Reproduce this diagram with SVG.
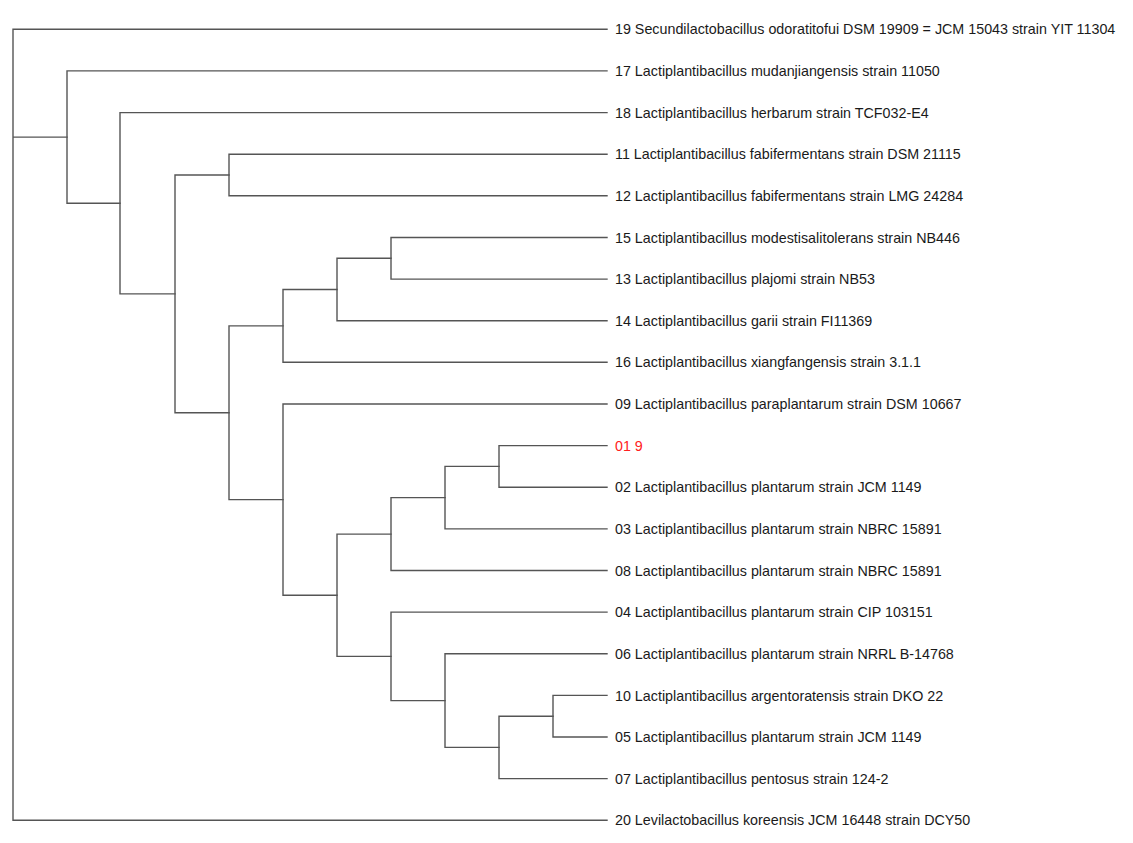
<svg xmlns="http://www.w3.org/2000/svg" width="1133" height="843" viewBox="0 0 1133 843">
<style>
.e{fill:none;stroke:#555;stroke-width:1.4;stroke-linecap:square}
.t{font-family:"Liberation Sans",Arial,sans-serif;font-size:14.3px;fill:#1a1a1a}
.r{fill:#ff2020}
</style>
<rect width="1133" height="843" fill="#fff"/>
<g id="connectors">
<path class="e" d="M13 29.3V820.3M13 137.1V328.9M13 29.3H607M13 820.3H607M13 137.1H67"/>
<path class="e" d="M67 70.9V203.2M67 70.9H607M67 203.2H120"/>
<path class="e" d="M120 112.6V293.9M120 112.6H607M120 293.9H175"/>
<path class="e" d="M175 175V412.8M175 175H229M175 412.8H229"/>
<path class="e" d="M229 154.2V195.8M229 154.2H607M229 195.8H607"/>
<path class="e" d="M229 325.9V499.6M229 325.9H283M229 499.6H283"/>
<path class="e" d="M283 289.5V362.3M283 289.5H337M283 362.3H607"/>
<path class="e" d="M337 258.3V320.7M337 258.3H391M337 320.7H607"/>
<path class="e" d="M391 237.5V279.1M391 237.5H607M391 279.1H607"/>
<path class="e" d="M283 404V595.2M283 404H607M283 595.2H337"/>
<path class="e" d="M337 534.1V656.4M337 534.1H391M337 656.4H391"/>
<path class="e" d="M391 497.6V570.5M391 497.6H445M391 570.5H607"/>
<path class="e" d="M445 466.4V528.9M445 466.4H499M445 528.9H607"/>
<path class="e" d="M499 445.6V487.2M499 445.6H607M499 487.2H607"/>
<path class="e" d="M391 612.1V700.6M391 612.1H607M391 700.6H445"/>
<path class="e" d="M445 653.8V747.4M445 653.8H607M445 747.4H499"/>
<path class="e" d="M499 716.2V778.6M499 716.2H553M499 778.6H607"/>
<path class="e" d="M553 695.4V737M553 695.4H607M553 737H607"/>
</g>
<g id="leaf19"><text class="t" x="615" y="34.4">19 Secundilactobacillus odoratitofui DSM 19909 = JCM 15043 strain YIT 11304</text></g>
<g id="leaf17"><text class="t" x="615" y="76">17 Lactiplantibacillus mudanjiangensis strain 11050</text></g>
<g id="leaf18"><text class="t" x="615" y="117.7">18 Lactiplantibacillus herbarum strain TCF032-E4</text></g>
<g id="leaf11"><text class="t" x="615" y="159.3">11 Lactiplantibacillus fabifermentans strain DSM 21115</text></g>
<g id="leaf12"><text class="t" x="615" y="200.9">12 Lactiplantibacillus fabifermentans strain LMG 24284</text></g>
<g id="leaf15"><text class="t" x="615" y="242.6">15 Lactiplantibacillus modestisalitolerans strain NB446</text></g>
<g id="leaf13"><text class="t" x="615" y="284.2">13 Lactiplantibacillus plajomi strain NB53</text></g>
<g id="leaf14"><text class="t" x="615" y="325.8">14 Lactiplantibacillus garii strain FI11369</text></g>
<g id="leaf16"><text class="t" x="615" y="367.4">16 Lactiplantibacillus xiangfangensis strain 3.1.1</text></g>
<g id="leaf09"><text class="t" x="615" y="409.1">09 Lactiplantibacillus paraplantarum strain DSM 10667</text></g>
<g id="leaf01"><text class="t r" x="615" y="450.7">01 9</text></g>
<g id="leaf02"><text class="t" x="615" y="492.3">02 Lactiplantibacillus plantarum strain JCM 1149</text></g>
<g id="leaf03"><text class="t" x="615" y="534">03 Lactiplantibacillus plantarum strain NBRC 15891</text></g>
<g id="leaf08"><text class="t" x="615" y="575.6">08 Lactiplantibacillus plantarum strain NBRC 15891</text></g>
<g id="leaf04"><text class="t" x="615" y="617.2">04 Lactiplantibacillus plantarum strain CIP 103151</text></g>
<g id="leaf06"><text class="t" x="615" y="658.9">06 Lactiplantibacillus plantarum strain NRRL B-14768</text></g>
<g id="leaf10"><text class="t" x="615" y="700.5">10 Lactiplantibacillus argentoratensis strain DKO 22</text></g>
<g id="leaf05"><text class="t" x="615" y="742.1">05 Lactiplantibacillus plantarum strain JCM 1149</text></g>
<g id="leaf07"><text class="t" x="615" y="783.7">07 Lactiplantibacillus pentosus strain 124-2</text></g>
<g id="leaf20"><text class="t" x="615" y="825.4">20 Levilactobacillus koreensis JCM 16448 strain DCY50</text></g>
</svg>
